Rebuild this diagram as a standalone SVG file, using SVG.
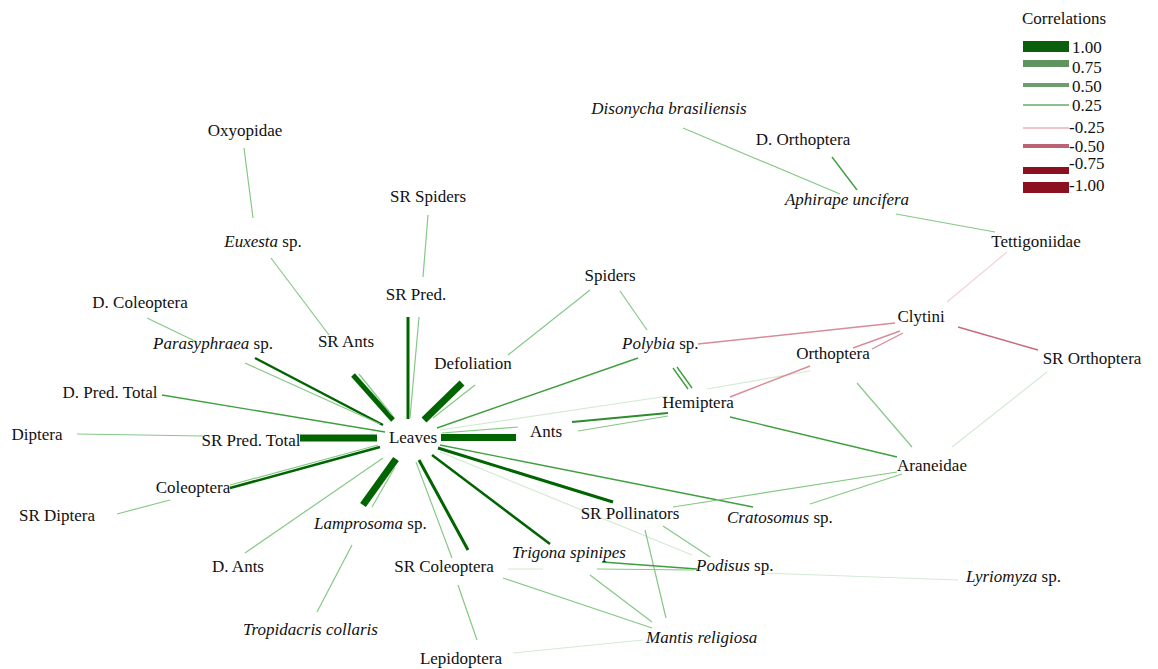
<svg xmlns="http://www.w3.org/2000/svg" width="1158" height="669" viewBox="0 0 1158 669">
<style>
text{font-family:"Liberation Serif","Times New Roman",serif;font-size:17px;fill:#111}
.mid{text-anchor:middle}
.i{font-style:italic}
line{stroke-linecap:butt;fill:none}
.d7{stroke:#006400;stroke-width:7}
.d5{stroke:#006400;stroke-width:5}
.d3{stroke:#006400;stroke-width:3}
.d25{stroke:#006400;stroke-width:2.5}
.m{stroke:#3f9f3f;stroke-width:1.4}
.m2{stroke:#2e8b2e;stroke-width:1.8}
.l{stroke:#86c886;stroke-width:1.2}
.vl{stroke:#d3ead3;stroke-width:1.2}
.r1{stroke:#d88c98;stroke-width:1.4}
.r15{stroke:#c66a7a;stroke-width:1.5}
.r2{stroke:#f0d2d7;stroke-width:1.2}
</style>
<rect width="1158" height="669" fill="#fff"/>
<g id="connectors">
<line class="d7" x1="300" y1="438" x2="377" y2="438"/>
<line class="d7" x1="441" y1="437.5" x2="516" y2="437.5"/>
<line class="d7" x1="424" y1="420" x2="462" y2="383"/>
<line class="l" x1="433" y1="418" x2="475" y2="385"/>
<line class="d3" x1="408" y1="317" x2="408" y2="419"/>
<line class="l" x1="419" y1="317" x2="410" y2="418"/>
<line class="l" x1="428" y1="215" x2="423" y2="277"/>
<line class="d5" x1="353" y1="375" x2="393" y2="420"/>
<line class="l" x1="359" y1="374" x2="392" y2="415"/>
<line class="l" x1="271" y1="258" x2="329" y2="335"/>
<line class="l" x1="244" y1="148" x2="253" y2="218"/>
<line class="d25" x1="255" y1="358" x2="383" y2="425"/>
<line class="l" x1="245" y1="363" x2="380" y2="424"/>
<line class="l" x1="147" y1="318" x2="197" y2="342"/>
<line class="m" x1="162" y1="395" x2="385" y2="432"/>
<line class="l" x1="77" y1="434" x2="203" y2="436"/>
<line class="d25" x1="230" y1="488" x2="380" y2="447"/>
<line class="l" x1="230" y1="485" x2="378" y2="445"/>
<line class="l" x1="117" y1="514" x2="170" y2="500"/>
<line class="l" x1="245" y1="553" x2="383" y2="458"/>
<line class="d7" x1="363" y1="505" x2="396" y2="459"/>
<line class="l" x1="372" y1="507" x2="395" y2="467"/>
<line class="l" x1="352" y1="545" x2="317" y2="612"/>
<line class="d3" x1="419" y1="460" x2="468" y2="550"/>
<line class="l" x1="416" y1="462" x2="452" y2="558"/>
<line class="l" x1="458" y1="585" x2="477" y2="640"/>
<line class="d25" x1="432" y1="455" x2="550" y2="544"/>
<line class="d3" x1="438" y1="448" x2="613" y2="502"/>
<line class="m" x1="440" y1="445" x2="753" y2="507"/>
<line class="vl" x1="440" y1="452" x2="692" y2="555"/>
<line class="m" x1="437" y1="428" x2="638" y2="358"/>
<line class="l" x1="590" y1="290" x2="508" y2="355"/>
<line class="l" x1="620" y1="291" x2="647" y2="330"/>
<line class="vl" x1="440" y1="430" x2="668" y2="396"/>
<line class="vl" x1="707" y1="389" x2="810" y2="371"/>
<line class="l" x1="442" y1="433" x2="518" y2="427"/>
<line class="m2" x1="572" y1="422" x2="668" y2="413"/>
<line class="l" x1="578" y1="431" x2="668" y2="416"/>
<line class="m" x1="673" y1="368" x2="688" y2="389"/>
<line class="m" x1="677" y1="367" x2="692" y2="388"/>
<line class="r1" x1="698" y1="344" x2="895" y2="323"/>
<line class="r1" x1="730" y1="397" x2="810" y2="366"/>
<line class="r1" x1="853" y1="348" x2="900" y2="331"/>
<line class="r1" x1="872" y1="349" x2="903" y2="333"/>
<line class="r15" x1="958" y1="327" x2="1038" y2="350"/>
<line class="r2" x1="1007" y1="252" x2="947" y2="302"/>
<line class="l" x1="896" y1="214" x2="995" y2="232"/>
<line class="l" x1="683" y1="128" x2="840" y2="194"/>
<line class="m" x1="832" y1="157" x2="857" y2="190"/>
<line class="l" x1="857" y1="383" x2="912" y2="447"/>
<line class="vl" x1="1047" y1="372" x2="952" y2="447"/>
<line class="m" x1="730" y1="417" x2="897" y2="457"/>
<line class="l" x1="673" y1="507" x2="897" y2="472"/>
<line class="l" x1="810" y1="504" x2="902" y2="474"/>
<line class="l" x1="645" y1="530" x2="666" y2="618"/>
<line class="l" x1="663" y1="526" x2="710" y2="557"/>
<line class="m" x1="602" y1="562" x2="697" y2="569"/>
<line class="l" x1="597" y1="569" x2="694" y2="570"/>
<line class="vl" x1="763" y1="573" x2="958" y2="580"/>
<line class="l" x1="590" y1="575" x2="652" y2="622"/>
<line class="l" x1="503" y1="578" x2="652" y2="628"/>
<line class="vl" x1="508" y1="569" x2="543" y2="569"/>
<line class="vl" x1="513" y1="653" x2="643" y2="640"/>
</g>
<g id="legend">
<text x="1022" y="24">Correlations</text>
<rect x="1023" y="41" width="46" height="11" fill="#0b5e0b"/>
<text x="1072" y="53">1.00</text>
<rect x="1023" y="60" width="46" height="7" fill="#5f935f"/>
<text x="1072" y="73">0.75</text>
<rect x="1023" y="83" width="46" height="4" fill="#6e9e6e"/>
<text x="1072" y="92">0.50</text>
<rect x="1023" y="104" width="46" height="2" fill="#8fbf8f"/>
<text x="1072" y="111">0.25</text>
<rect x="1023" y="127" width="46" height="2" fill="#f0c4cb"/>
<text x="1069" y="133">-0.25</text>
<rect x="1023" y="144" width="46" height="4" fill="#b96373"/>
<text x="1069" y="152">-0.50</text>
<rect x="1023" y="167" width="46" height="7" fill="#8b1020"/>
<text x="1069" y="169">-0.75</text>
<rect x="1023" y="182" width="46" height="11" fill="#8b1020"/>
<text x="1069" y="191">-1.00</text>
</g>
<g id="n-oxyopidae"><text class="mid" x="245" y="136">Oxyopidae</text></g>
<g id="n-euxesta"><text class="mid" x="263" y="247"><tspan class="i">Euxesta</tspan> sp.</text></g>
<g id="n-srspiders"><text class="mid" x="428" y="202">SR Spiders</text></g>
<g id="n-srpred"><text class="mid" x="416" y="300">SR Pred.</text></g>
<g id="n-disonycha"><text class="mid i" x="669" y="114">Disonycha brasiliensis</text></g>
<g id="n-dorthoptera"><text class="mid" x="803" y="145">D. Orthoptera</text></g>
<g id="n-aphirape"><text class="mid i" x="847" y="205">Aphirape uncifera</text></g>
<g id="n-tettigoniidae"><text class="mid" x="1036" y="247">Tettigoniidae</text></g>
<g id="n-spiders"><text class="mid" x="610" y="281">Spiders</text></g>
<g id="n-clytini"><text class="mid" x="921" y="322">Clytini</text></g>
<g id="n-dcoleoptera"><text class="mid" x="140" y="308">D. Coleoptera</text></g>
<g id="n-parasyphraea"><text x="153" y="349"><tspan class="i">Parasyphraea</tspan> sp.</text></g>
<g id="n-srants"><text class="mid" x="346" y="347">SR Ants</text></g>
<g id="n-defoliation"><text class="mid" x="473" y="369">Defoliation</text></g>
<g id="n-polybia"><text x="622" y="349"><tspan class="i">Polybia</tspan> sp.</text></g>
<g id="n-orthoptera"><text class="mid" x="833" y="359">Orthoptera</text></g>
<g id="n-srorthoptera"><text class="mid" x="1092" y="364">SR Orthoptera</text></g>
<g id="n-dpredtotal"><text class="mid" x="110" y="398">D. Pred. Total</text></g>
<g id="n-hemiptera"><text class="mid" x="698" y="408">Hemiptera</text></g>
<g id="n-diptera"><text class="mid" x="37" y="440">Diptera</text></g>
<g id="n-srpredtotal"><text class="mid" x="251" y="446">SR Pred. Total</text></g>
<g id="n-leaves"><text class="mid" x="413" y="443">Leaves</text></g>
<g id="n-ants"><text class="mid" x="546" y="437">Ants</text></g>
<g id="n-araneidae"><text class="mid" x="932" y="471">Araneidae</text></g>
<g id="n-coleoptera"><text class="mid" x="193" y="493">Coleoptera</text></g>
<g id="n-srdiptera"><text class="mid" x="57" y="521">SR Diptera</text></g>
<g id="n-srpollinators"><text class="mid" x="630" y="519">SR Pollinators</text></g>
<g id="n-cratosomus"><text x="727" y="523"><tspan class="i">Cratosomus</tspan> sp.</text></g>
<g id="n-lamprosoma"><text x="314" y="529"><tspan class="i">Lamprosoma</tspan> sp.</text></g>
<g id="n-dants"><text class="mid" x="238" y="572">D. Ants</text></g>
<g id="n-srcoleoptera"><text class="mid" x="444" y="572">SR Coleoptera</text></g>
<g id="n-trigona"><text class="i" x="512" y="558">Trigona spinipes</text></g>
<g id="n-podisus"><text x="696" y="571"><tspan class="i">Podisus</tspan> sp.</text></g>
<g id="n-lyriomyza"><text x="966" y="582"><tspan class="i">Lyriomyza</tspan> sp.</text></g>
<g id="n-tropidacris"><text class="i" x="243" y="635">Tropidacris collaris</text></g>
<g id="n-mantis"><text class="i" x="646" y="643">Mantis religiosa</text></g>
<g id="n-lepidoptera"><text class="mid" x="461" y="664">Lepidoptera</text></g>
</svg>
